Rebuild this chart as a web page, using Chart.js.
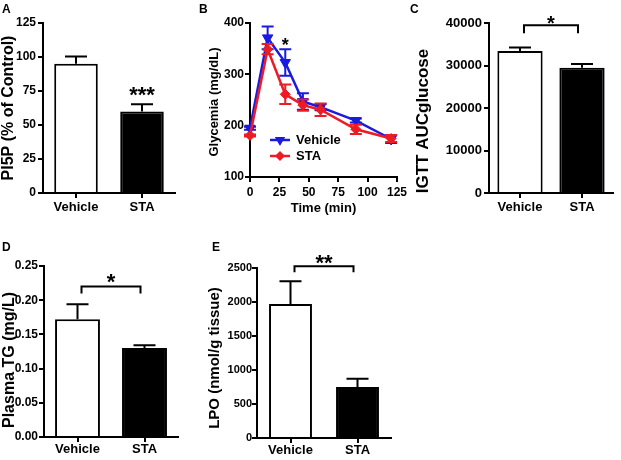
<!DOCTYPE html>
<html><head><meta charset="utf-8">
<script src="https://cdn.jsdelivr.net/npm/chart.js@4.4.0/dist/chart.umd.min.js"></script>
<style>
html,body{margin:0;padding:0;background:#fff;}
#wrap{position:relative;width:621px;height:460px;overflow:hidden;background:#fff;}
canvas{position:absolute;left:0;top:0;}
.lbl{position:absolute;font-family:"Liberation Sans",Arial,sans-serif;font-weight:bold;font-size:12px;line-height:12px;color:#000;}
</style></head><body>
<div id="wrap">
<canvas id="cA" width="621" height="460"></canvas>
<canvas id="cB" width="621" height="460"></canvas>
<canvas id="cC" width="621" height="460"></canvas>
<canvas id="cD" width="621" height="460"></canvas>
<canvas id="cE" width="621" height="460"></canvas>
<div class="lbl" style="left:2px;top:3.4px">A</div>
<div class="lbl" style="left:199px;top:3.4px">B</div>
<div class="lbl" style="left:410px;top:3.4px">C</div>
<div class="lbl" style="left:2px;top:241.4px">D</div>
<div class="lbl" style="left:212px;top:241.4px">E</div>
</div>
<script>
// ---------- data ----------
const groups = ['Vehicle', 'STA'];

const pi5pMean = [95, 60];
const pi5pSem = [5.3, 5.2];
const pi5pTicks = [0, 25, 50, 75, 100, 125];

const timeMin = [0, 15, 30, 45, 60, 90, 120];
const glyVehicleMean = [195, 371, 323, 247, 236, 210, 174];
const glyVehicleSem = [3, 22, 26, 16, 6, 4, 8];
const glySTAMean = [181, 349, 261, 240, 231, 193, 175];
const glySTASem = [2, 10, 19, 11, 12, 9, 7];
const glyTicks = [100, 200, 300, 400];
const timeTicks = [0, 25, 50, 75, 100, 125];

const aucMean = [33400, 29500];
const aucSem = [850, 850];
const aucTicks = [0, 10000, 20000, 30000, 40000];

const tgMean = [0.172, 0.130];
const tgSem = [0.022, 0.004];
const tgTicks = [0, 0.05, 0.10, 0.15, 0.20, 0.25];

const lpoMean = [1970, 750];
const lpoSem = [335, 123];
const lpoTicks = [0, 500, 1000, 1500, 2000, 2500];

// ---------- styling ----------
const FONT = '"Liberation Sans", Arial, sans-serif';
const BLUE = '#1a1ae0';
const RED = '#ec1c24';
Chart.defaults.font.family = FONT;
Chart.defaults.font.weight = 'bold';
Chart.defaults.color = '#000';

const errorBarPlugin = {
  id: 'errbars',
  afterDatasetDraw(chart, args) {
    const ds = chart.data.datasets[args.index];
    if (!ds.errValues) return;
    const meta = args.meta;
    const ys = chart.scales[meta.yAxisID];
    const ctx = chart.ctx;
    ctx.save();
    ctx.strokeStyle = ds.errColor || ds.borderColor;
    ctx.lineWidth = ds.errLineWidth || 2;
    meta.data.forEach((el, i) => {
      const raw = ds.data[i];
      const v = (typeof raw === 'object') ? raw.y : raw;
      const e = ds.errValues[i];
      const x = el.x;
      const yTop = ys.getPixelForValue(v + e);
      const yBot = ds.errBothSides ? ys.getPixelForValue(v - e) : ys.getPixelForValue(v);
      const hw = (ds.errCap || 20) / 2;
      ctx.beginPath();
      ctx.moveTo(x, yBot); ctx.lineTo(x, yTop);
      ctx.moveTo(x - hw, yTop); ctx.lineTo(x + hw, yTop);
      if (ds.errBothSides) { ctx.moveTo(x - hw, yBot); ctx.lineTo(x + hw, yBot); }
      ctx.stroke();
    });
    ctx.restore();
  }
};

function annot(cfg) {
  return {
    id: 'annot',
    afterDraw(chart) {
      const ctx = chart.ctx, xs = chart.scales.x, ys = chart.scales.y;
      ctx.save();
      ctx.fillStyle = '#000'; ctx.strokeStyle = '#000';
      (cfg.brackets || []).forEach(b => {
        const x1 = xs.getPixelForValue(b.from) + b.inset;
        const x2 = xs.getPixelForValue(b.to) - b.inset;
        const y = ys.getPixelForValue(b.y);
        ctx.lineWidth = 2;
        ctx.beginPath();
        ctx.moveTo(x1, y + b.leg); ctx.lineTo(x1, y); ctx.lineTo(x2, y); ctx.lineTo(x2, y + b.leg);
        ctx.stroke();
      });
      (cfg.stars || []).forEach(s => {
        ctx.font = 'bold ' + s.size + 'px ' + FONT;
        ctx.textAlign = 'center'; ctx.textBaseline = 'alphabetic';
        ctx.fillText(s.text, xs.getPixelForValue(s.x), ys.getPixelForValue(s.y) + 0.57 * s.size);
      });
      if (cfg.yTitle) {
        const t = cfg.yTitle;
        ctx.save();
        ctx.translate(t.x, t.y); ctx.rotate(-Math.PI / 2);
        ctx.font = 'bold ' + t.size + 'px ' + FONT;
        ctx.textAlign = 'center'; ctx.textBaseline = 'middle';
        ctx.fillText(t.text, 0, 0);
        ctx.restore();
      }
      if (cfg.legend) {
        const L = cfg.legend;
        chart.data.datasets.forEach((ds, i) => {
          const y = L.y + i * L.row;
          ctx.strokeStyle = ds.borderColor; ctx.fillStyle = ds.borderColor;
          ctx.lineWidth = ds.borderWidth;
          ctx.beginPath(); ctx.moveTo(L.x1, y); ctx.lineTo(L.x2, y); ctx.stroke();
          const cx = (L.x1 + L.x2) / 2, r = ds.pointRadius;
          ctx.beginPath();
          if (ds.pointStyle === 'triangle') {
            ctx.moveTo(cx, y + r); ctx.lineTo(cx - r * 0.866, y - r / 2); ctx.lineTo(cx + r * 0.866, y - r / 2);
          } else {
            ctx.moveTo(cx, y - r); ctx.lineTo(cx + r, y); ctx.lineTo(cx, y + r); ctx.lineTo(cx - r, y);
          }
          ctx.closePath(); ctx.fill();
          ctx.fillStyle = '#000';
          ctx.font = 'bold ' + L.size + 'px ' + FONT;
          ctx.textAlign = 'left'; ctx.textBaseline = 'middle';
          ctx.fillText(ds.label, L.tx, y);
        });
      }
      ctx.restore();
    }
  };
}

function yAxis(ticks, size, fmt, pad, w) {
  return {
    type: 'linear', position: 'left',
    min: ticks[0], max: ticks[ticks.length - 1],
    afterBuildTicks: s => { s.ticks = ticks.map(v => ({ value: v })); },
    afterFit: s => { s.width = w; },
    grid: { drawOnChartArea: false, drawTicks: true, tickLength: 5, color: '#000', lineWidth: 2 },
    border: { display: true, color: '#000', width: 2 },
    ticks: { font: { size: size, weight: 'bold', family: FONT }, color: '#000', padding: pad, callback: fmt }
  };
}
function xCat(h, size, pad) {
  return {
    type: 'category', offset: true,
    afterFit: s => { s.height = h; },
    grid: { offset: false, drawOnChartArea: false, drawTicks: true, tickLength: 5, color: '#000', lineWidth: 2 },
    border: { display: true, color: '#000', width: 2 },
    ticks: { font: { size: size, weight: 'bold', family: FONT }, color: '#000', padding: pad }
  };
}
function axisW(L) { return Math.min(L, 50); }
function area(L, T, R, B, xh) {
  return { padding: { left: L - axisW(L), top: T, right: 621 - R, bottom: 460 - B - xh } };
}
const base = { responsive: false, animation: false, devicePixelRatio: 1,
  plugins: { legend: { display: false }, tooltip: { enabled: false } } };

function barChart(id, means, sems, ticks, fmt, box, yFont, yPad, xFont, xPad, barPct, ann) {
  return new Chart(document.getElementById(id), {
    type: 'bar',
    data: { labels: groups, datasets: [{
      data: means, backgroundColor: ['#ffffff', '#000000'], borderColor: '#000', borderWidth: 2,
      barPercentage: barPct, categoryPercentage: 1,
      errValues: sems, errColor: '#000', errCap: 22, errLineWidth: 2
    }] },
    options: Object.assign({}, base, {
      layout: area(box[0], box[1], box[2], box[3], box[4]),
      scales: { x: xCat(box[4], xFont, xPad), y: yAxis(ticks, yFont, fmt, yPad, axisW(box[0])) }
    }),
    plugins: [errorBarPlugin, annot(ann)]
  });
}

const plain = v => String(v);

// A
barChart('cA', pi5pMean, pi5pSem, pi5pTicks, plain, [43, 23, 175, 193, 30], 12, 2, 13, 2, 0.66, {
  stars: [{ text: '***', x: 1, y: 76, size: 22 }],
  yTitle: { text: 'PI5P (% of Control)', x: 9, y: 108, size: 16 }
});

// C
barChart('cC', aucMean, aucSem, aucTicks, plain, [489, 23, 613, 193, 30], 13, 2, 13, 2, 0.73, {
  brackets: [{ from: 0, to: 1, y: 39450, leg: 8, inset: 4 }],
  stars: [{ text: '*', x: 0.5, y: 41000, size: 20 }],
  yTitle: { text: 'IGTT AUCglucose', x: 423, y: 121, size: 17 }
});

// D
barChart('cD', tgMean, tgSem, tgTicks, v => v.toFixed(2), [44, 266, 178, 437, 20], 12, 1, 13, 0, 0.67, {
  brackets: [{ from: 0, to: 1, y: 0.220, leg: 7, inset: 4 }],
  stars: [{ text: '*', x: 0.5, y: 0.234, size: 22 }],
  yTitle: { text: 'Plasma TG (mg/L)', x: 9.5, y: 360, size: 16 }
});

// E
barChart('cE', lpoMean, lpoSem, lpoTicks, plain, [257, 268, 391, 438, 20], 11, 0, 13, 0, 0.64, {
  brackets: [{ from: 0, to: 1, y: 2524, leg: 6, inset: 4 }],
  stars: [{ text: '**', x: 0.5, y: 2662, size: 22 }],
  yTitle: { text: 'LPO (nmol/g tissue)', x: 215, y: 358, size: 15 }
});

// B
new Chart(document.getElementById('cB'), {
  type: 'line',
  data: { datasets: [
    { label: 'Vehicle', data: timeMin.map((t, i) => ({ x: t, y: glyVehicleMean[i] })),
      borderColor: BLUE, backgroundColor: BLUE, borderWidth: 2.5, tension: 0, fill: false,
      pointStyle: 'triangle', pointRotation: 180, pointRadius: 6, pointBorderWidth: 1,
      pointBackgroundColor: BLUE, pointBorderColor: BLUE, clip: false, order: 1,
      errValues: glyVehicleSem, errBothSides: true, errCap: 12, errLineWidth: 2 },
    { label: 'STA', data: timeMin.map((t, i) => ({ x: t, y: glySTAMean[i] })),
      borderColor: RED, backgroundColor: RED, borderWidth: 2.5, tension: 0, fill: false,
      pointStyle: 'rectRot', pointRadius: 5, pointBorderWidth: 1,
      pointBackgroundColor: RED, pointBorderColor: RED, clip: false, order: 0,
      errValues: glySTASem, errBothSides: true, errCap: 12, errLineWidth: 2 }
  ] },
  options: Object.assign({}, base, {
    layout: area(250, 23, 397, 177, 39),
    scales: {
      x: {
        type: 'linear', min: timeTicks[0], max: timeTicks[timeTicks.length - 1],
        afterBuildTicks: s => { s.ticks = timeTicks.map(v => ({ value: v })); },
        afterFit: s => { s.height = 39; },
        grid: { drawOnChartArea: false, drawTicks: true, tickLength: 5, color: '#000', lineWidth: 2 },
        border: { display: true, color: '#000', width: 2 },
        ticks: { font: { size: 12, weight: 'bold', family: FONT }, color: '#000', padding: 3, callback: plain },
        title: { display: true, text: 'Time (min)', font: { size: 13, weight: 'bold', family: FONT }, color: '#000', padding: 0 }
      },
      y: yAxis(glyTicks, 12, plain, 1, axisW(250))
    }
  }),
  plugins: [errorBarPlugin, annot({
    stars: [{ text: '*', x: 30, y: 365, size: 18 }],
    yTitle: { text: 'Glycemia (mg/dL)', x: 214, y: 102, size: 13 },
    legend: { x1: 270, x2: 290, tx: 296, y: 140, row: 16, size: 13 }
  })]
});
</script>
</body></html>
